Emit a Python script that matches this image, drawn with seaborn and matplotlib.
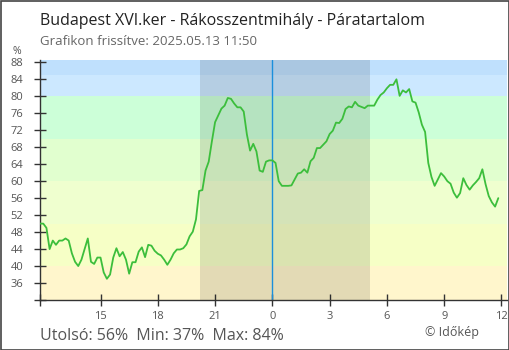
import numpy as np
import pandas as pd
import seaborn as sns
import matplotlib
matplotlib.use("Agg")
import matplotlib.pyplot as plt
from matplotlib.patches import Rectangle

# ---- data (10-minute readings, 11:50 yesterday -> 11:50 today) ----
start_hour = -12.0 - 10 / 60  # hours relative to midnight
humidity = [
    50, 50, 49, 44, 46, 45, 46, 46, 46.5, 46,
    43, 41, 40, 41.5, 44, 46.5, 41, 40.5, 42, 42,
    38.5, 37, 38, 42, 44.2, 42.3, 43.3, 41.5, 38.2, 40.9,
    40.9, 43.4, 44.4, 42.1, 45, 44.8, 43.6, 42.9, 42.5, 41.5,
    40.3, 41.5, 43, 43.9, 43.9, 44.2, 45.1, 47, 48.1, 51,
    57.7, 57.9, 62.5, 64.6, 69.4, 73.9, 75.5, 77.1, 77.8, 79.6,
    79.4, 78.3, 77.4, 77.4, 76.4, 71, 67.2, 68.8, 67, 62.5,
    62.2, 64.6, 64.9, 64.9, 64.3, 60, 58.9, 58.9, 58.9, 59,
    60.4, 61.8, 62, 62.8, 62, 64.7, 65.5, 67.8, 67.8, 68.6,
    69.4, 71.1, 71.9, 73.8, 73.7, 74.7, 77, 77.6, 77.4, 78.7,
    77.8, 77.5, 77.2, 77.8, 77.8, 77.8, 79.2, 80.3, 80.9, 81.9,
    82.7, 82.7, 84, 80.1, 81.4, 80.9, 81.7, 78.8, 78.5, 76.2,
    73.3, 71.6, 64.3, 61, 58.9, 60.4, 61.9, 61.1, 60, 59.4,
    57.3, 56.1, 57.2, 60.7, 59.1, 58, 59, 59.8, 60.7, 62.8,
    59.3, 56.5, 55, 54, 56,
]
hours = [start_hour + i / 6 for i in range(len(humidity))]

x_tick_pos = [-9, -6, -3, 0, 3, 6, 9, 12]
x_tick_labels = ["15", "18", "21", "0", "3", "6", "9", "12"]
y_ticks = list(range(32, 89, 4))
night_start, night_end = -3.78, 5.1  # 20:13 -> 05:06

band_edges = [30, 40, 50, 60, 70, 80, 85, 95]
band_colors = ["#fff6cc", "#f6ffc6", "#efffcf", "#e1ffcf", "#ccffd8", "#cce8ff", "#bfe0fd"]

title = "Budapest XVI.ker - Rákosszentmihály - Páratartalom"
subtitle = "Grafikon frissítve: 2025.05.13 11:50"
stats = "Utolsó: 56%  Min: 37%  Max: 84%"
credit = "© Időkép"

df = pd.DataFrame({"hour": hours, "humidity": humidity})

sns.set_style("white")
plt.rcParams["font.family"] = ["Open Sans", "DejaVu Sans"]

W, H = 510, 350
fig = plt.figure(figsize=(W / 100, H / 100), dpi=100)
ax = fig.add_axes([40 / W, (H - 300) / H, (507 - 40) / W, (300 - 60) / H])

xmin, xmax = -12.17, 12.29
ymin, ymax = 32, 88.55

for lo, hi, c in zip(band_edges[:-1], band_edges[1:], band_colors):
    ax.axhspan(lo, hi, color=c, lw=0, zorder=0)
ax.axvspan(night_start, night_end, color="black", alpha=0.11, lw=0, zorder=1)
ax.axvline(0, color="#1b8fdc", lw=1.0, zorder=2)

sns.lineplot(data=df, x="hour", y="humidity", ax=ax, color="#3cbe3c", lw=1.3, zorder=3)

ax.set_xlim(xmin, xmax)
ax.set_ylim(ymin, ymax)
ax.set_xlabel("")
ax.set_ylabel("")

ax.set_xticks([xmin] + x_tick_pos)
ax.set_xticklabels([""] + x_tick_labels)
ax.set_yticks(y_ticks)
ax.set_yticklabels(["" if v == 32 else str(v) for v in y_ticks])

for s in ["top", "right"]:
    ax.spines[s].set_visible(False)
for s in ["left", "bottom"]:
    ax.spines[s].set_color("#333333")
    ax.spines[s].set_linewidth(1.0)
ax.tick_params(axis="both", direction="inout", length=8, width=1, color="#333333",
               labelcolor="#555555", labelsize=8, bottom=True, left=True)
ax.tick_params(axis="y", pad=8)
ax.tick_params(axis="x", pad=4)

fig.text(17 / W, 1 - 52 / H, "%", ha="center", va="center", fontsize=7.5, color="#555555")
fig.text(40 / W, 1 - 24.7 / H, title, ha="left", va="baseline", fontsize=11.5, color="#222222")
fig.text(40 / W, 1 - 45 / H, subtitle, ha="left", va="baseline", fontsize=9.5, color="#666666")
fig.text(40 / W, 1 - 340 / H, stats, ha="left", va="baseline", fontsize=11.5, color="#555555")
fig.text(425 / W, 1 - 336 / H, credit, ha="left", va="baseline", fontsize=9, color="#555555")

fig.patches.append(Rectangle((0.5 / W, 0.5 / H), 1 - 1.5 / W, 1 - 1.5 / H, transform=fig.transFigure,
                             fill=False, edgecolor="#444444", lw=1.2))

fig.savefig("out.png", dpi=100)
